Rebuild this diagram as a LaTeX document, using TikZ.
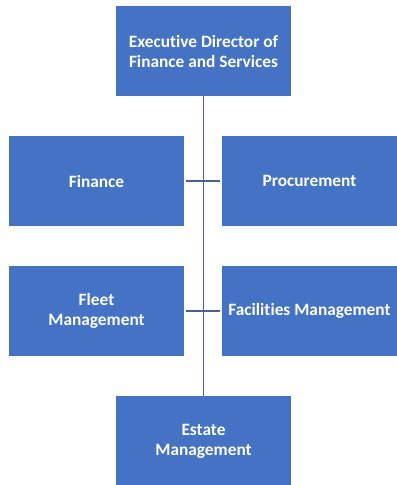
\documentclass[tikz,border=0pt]{standalone}
\usepackage{fontspec}
\setmainfont[Ligatures=NoCommon]{Carlito}
\usetikzlibrary{positioning}
\definecolor{unitblue}{HTML}{4472C4}
\definecolor{linkblue}{HTML}{4E5E92}

\begin{document}
\begin{tikzpicture}[
  		x=0.75pt,y=-0.75pt,
  		unit/.style={rectangle,fill=unitblue,text=white,align=center,
    		minimum width=131.25pt,minimum height=67.5pt,inner sep=0pt,
    		font=\fontsize{13}{15}\selectfont\bfseries},
  		link/.style={draw=linkblue,line width=0.8pt}]
    		\useasboundingbox (0,0) rectangle (396,485);
    		% Head
      		\node[unit] (director) at (203.5,51) {Executive Director of\\Finance and Services};
    		% Departments
      		\node[unit] (finance) at (96.5,181) {Finance};
      		\node[unit] (procurement) at (309.5,181) {Procurement};
      		\node[unit] (fleet) at (96.5,311) {Fleet\\Management};
      		\node[unit] (facilities) at (309.5,311) {Facilities Management};
      		\node[unit] (estate) at (203.5,441) {Estate\\Management};
    		% Links
      		\draw[link] (director.south) -- (estate.north);
      		\draw[link,shorten <=1.5pt,shorten >=1.5pt] (finance.east) -- (procurement.west);
      		\draw[link,shorten <=1.5pt,shorten >=1.5pt] (fleet.east) -- (facilities.west);
	\end{tikzpicture}
\end{document}
